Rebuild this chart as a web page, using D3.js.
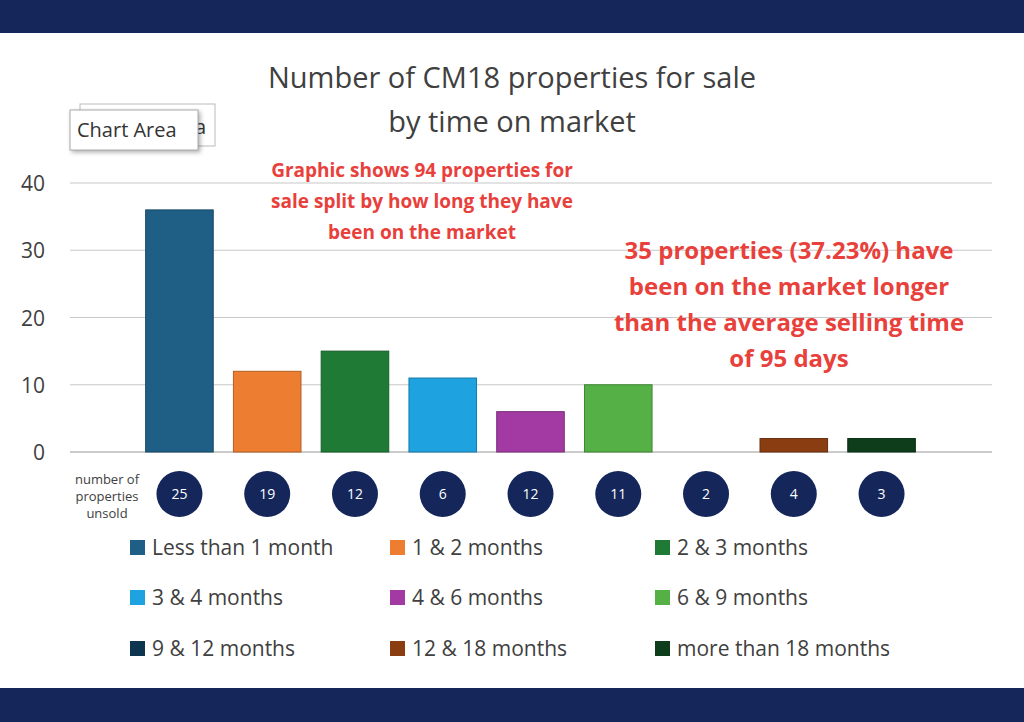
<!DOCTYPE html>
<html><head><meta charset="utf-8">
<script src="https://cdn.jsdelivr.net/npm/d3@7"></script>
<style>body{margin:0;background:#fff}svg{display:block;font-family:"Open Sans","Noto Sans",sans-serif}</style>
</head><body><svg id="c" width="1024" height="722"></svg>
<script>
var CATEGORIES = ['Less than 1 month','1 & 2 months','2 & 3 months','3 & 4 months','4 & 6 months','6 & 9 months','9 & 12 months','12 & 18 months','more than 18 months'];
var VALUES = [36, 12, 15, 11, 6, 10, 0, 2, 2];
var UNSOLD = [25, 19, 12, 6, 12, 11, 2, 4, 3];
var COLORS = ['#1f5f85','#ed7d31','#1e7a35','#1ea2e0','#a33aa3','#55b046','#0d3550','#8b3d12','#0d3d1a'];
var Y_TICKS = [0, 10, 20, 30, 40];

var svg = d3.select("#c");
svg.append("rect").attr("width",1024).attr("height",33).attr("fill","#14265a");
svg.append("rect").attr("y",688).attr("width",1024).attr("height",34).attr("fill","#14265a");

// title
svg.append("text").attr("x",512).attr("y",88).attr("text-anchor","middle").attr("font-size",29).attr("fill","#404040").text("Number of CM18 properties for sale");
svg.append("text").attr("x",512).attr("y",132).attr("text-anchor","middle").attr("font-size",29).attr("fill","#404040").text("by time on market");

var x = d3.scaleBand().domain(CATEGORIES).range([136, 925]).paddingInner(0.23).paddingOuter(0.11);
var y = d3.scaleLinear().domain([0, 40]).range([452, 183]);

svg.selectAll(".grid").data(Y_TICKS).enter().append("line")
  .attr("x1",70).attr("x2",992).attr("y1",function(d){return y(d);}).attr("y2",function(d){return y(d);})
  .attr("stroke",function(d){return d===0?"#999":"#c8c8c8";}).attr("stroke-width",1.2);
svg.selectAll(".yl").data(Y_TICKS).enter().append("text")
  .attr("x",45).attr("y",function(d){return y(d)+8;}).attr("text-anchor","end")
  .attr("font-size",21).attr("fill","#404040").text(function(d){return d;});

svg.selectAll(".bar").data(VALUES).enter().append("rect")
  .attr("x",function(d,i){return x(CATEGORIES[i]);})
  .attr("y",function(d){return y(d);})
  .attr("width",x.bandwidth())
  .attr("height",function(d){return y(0)-y(d);})
  .attr("fill",function(d,i){return COLORS[i];})
  .attr("stroke",function(d,i){return d3.color(COLORS[i]).darker(0.8);}).attr("stroke-width",1);

// unsold circles
var cx = function(i){return x(CATEGORIES[i]) + x.bandwidth()/2;};
svg.selectAll(".circ").data(UNSOLD).enter().append("circle")
  .attr("cx",function(d,i){return cx(i);}).attr("cy",494).attr("r",23).attr("fill","#14265a");
svg.selectAll(".cn").data(UNSOLD).enter().append("text")
  .attr("x",function(d,i){return cx(i);}).attr("y",499).attr("text-anchor","middle")
  .attr("font-size",14).attr("fill","#fff").text(function(d){return d;});
["number of","properties","unsold"].forEach(function(t,i){
  svg.append("text").attr("x",107).attr("y",484+i*17).attr("text-anchor","middle").attr("font-size",13).attr("fill","#404040").text(t);
});

// legend
var lx = [130, 390, 655], ly = [548, 598, 649];
CATEGORIES.forEach(function(c,i){
  var gx = lx[i%3], gy = ly[Math.floor(i/3)];
  svg.append("rect").attr("x",gx).attr("y",gy-8).attr("width",15).attr("height",15).attr("fill",COLORS[i]);
  svg.append("text").attr("x",gx+22).attr("y",gy+7).attr("font-size",21).attr("fill","#404040").text(c);
});

// annotations
["Graphic shows 94 properties for","sale split by how long they have","been on the market"].forEach(function(t,i){
  svg.append("text").attr("x",422).attr("y",177+i*31).attr("text-anchor","middle").attr("font-size",19).attr("font-weight","bold").attr("fill","#e8403b").text(t);
});
["35 properties (37.23%) have","been on the market longer","than the average selling time","of 95 days"].forEach(function(t,i){
  svg.append("text").attr("x",789).attr("y",259+i*36).attr("text-anchor","middle").attr("font-size",24).attr("font-weight","bold").attr("fill","#e8403b").text(t);
});

// chart area tooltip
svg.append("rect").attr("x",80).attr("y",104).attr("width",135).attr("height",42).attr("fill","#fff").attr("stroke","#bbb");
svg.append("text").attr("x",195).attr("y",134).attr("font-size",20).attr("fill","#333").text("a");
svg.append("rect").attr("x",70).attr("y",110).attr("width",128).attr("height",40).attr("fill","#fff").attr("stroke","#aaa")
  .style("filter","drop-shadow(2px 2px 2px rgba(0,0,0,0.3))");
svg.append("text").attr("x",77).attr("y",137).attr("font-size",20).attr("fill","#333").text("Chart Area");
</script></body></html>
